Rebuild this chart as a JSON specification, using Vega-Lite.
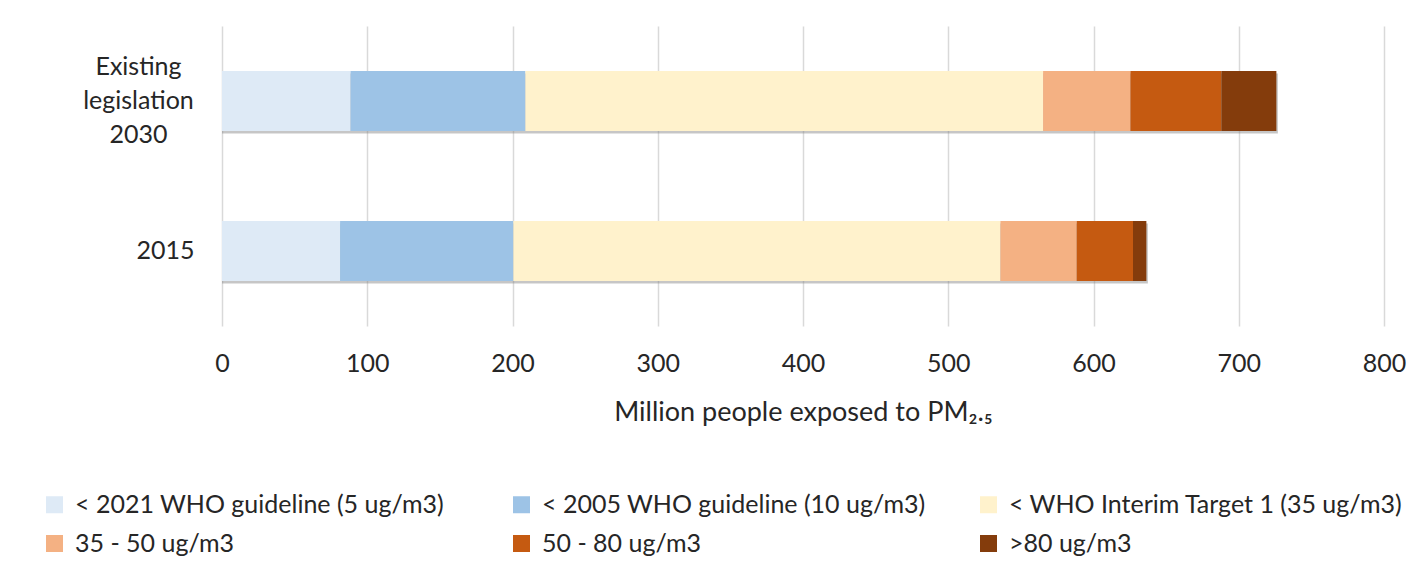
{
  "$schema": "https://vega.github.io/schema/vega-lite/v6.json",
  "width": 1162,
  "height": 300,
  "autosize": {"type": "none"},
  "padding": {"left": 222, "top": 26, "right": 42, "bottom": 247},
  "background": "white",
  "data": {
    "values": [
      {"scenario": "Existing legislation 2030", "band": "< 2021 WHO guideline (5 ug/m3)", "level": 1, "people": 88.5},
      {"scenario": "Existing legislation 2030", "band": "< 2005 WHO guideline (10 ug/m3)", "level": 2, "people": 120.4},
      {"scenario": "Existing legislation 2030", "band": "< WHO Interim Target 1 (35 ug/m3)", "level": 3, "people": 356.4},
      {"scenario": "Existing legislation 2030", "band": "35 - 50 ug/m3", "level": 4, "people": 60.1},
      {"scenario": "Existing legislation 2030", "band": "50 - 80 ug/m3", "level": 5, "people": 62.6},
      {"scenario": "Existing legislation 2030", "band": ">80 ug/m3", "level": 6, "people": 37.9},
      {"scenario": "2015", "band": "< 2021 WHO guideline (5 ug/m3)", "level": 1, "people": 81.3},
      {"scenario": "2015", "band": "< 2005 WHO guideline (10 ug/m3)", "level": 2, "people": 119.3},
      {"scenario": "2015", "band": "< WHO Interim Target 1 (35 ug/m3)", "level": 3, "people": 335.3},
      {"scenario": "2015", "band": "35 - 50 ug/m3", "level": 4, "people": 52.5},
      {"scenario": "2015", "band": "50 - 80 ug/m3", "level": 5, "people": 38.8},
      {"scenario": "2015", "band": ">80 ug/m3", "level": 6, "people": 9.2}
    ]
  },
  "encoding": {
    "y": {
      "field": "scenario",
      "type": "nominal",
      "sort": ["Existing legislation 2030", "2015"],
      "scale": {"paddingInner": 0.6, "paddingOuter": 0.3},
      "axis": {
        "title": null,
        "domain": false,
        "ticks": false,
        "tickSize": 0,
        "grid": false,
        "labelPadding": {"condition": {"test": "datum.value === '2015'", "value": 28}, "value": 84},
        "labelAlign": {"condition": {"test": "datum.value === '2015'", "value": "right"}, "value": "center"},
        "labelOffset": {"condition": {"test": "datum.value === '2015'", "value": 0}, "value": -34},
        "labelBaseline": "middle",
        "labelFont": "Lato",
        "labelFontSize": 25,
        "labelColor": "#262626",
        "labelLineHeight": 34,
        "labelExpr": "split(datum.value, ' ')"
      }
    }
  },
  "layer": [
    {
      "mark": {"type": "bar", "color": "#808080", "opacity": 0.45, "xOffset": 1.5, "yOffset": 2.5},
      "encoding": {
        "x": {"field": "people", "type": "quantitative", "aggregate": "sum", "scale": {"domain": [0, 800], "nice": false}}
      }
    },
    {
      "mark": {"type": "bar"},
      "encoding": {
        "x": {
          "field": "people",
          "type": "quantitative",
          "aggregate": "sum",
          "stack": "zero",
          "scale": {"domain": [0, 800], "nice": false},
          "axis": {
            "title": "Million people exposed to PM₂.₅",
            "values": [0, 100, 200, 300, 400, 500, 600, 700, 800],
            "domain": false,
            "ticks": false,
            "tickSize": 0,
            "grid": true,
            "gridColor": "#D9D9D9",
            "gridWidth": 1.5,
            "labelFlush": false,
            "labelPadding": 25,
            "labelFont": "Lato",
            "labelFontSize": 25,
            "labelColor": "#262626",
            "titleFont": "Lato",
            "titleFontSize": 27,
            "titleFontWeight": "normal",
            "titleColor": "#262626",
            "titlePadding": 23
          }
        },
        "order": {"field": "level", "type": "quantitative", "sort": "ascending"},
        "color": {
          "field": "band",
          "type": "nominal",
          "sort": ["< 2021 WHO guideline (5 ug/m3)", "< 2005 WHO guideline (10 ug/m3)", "< WHO Interim Target 1 (35 ug/m3)", "35 - 50 ug/m3", "50 - 80 ug/m3", ">80 ug/m3"],
          "scale": {
            "domain": ["< 2021 WHO guideline (5 ug/m3)", "< 2005 WHO guideline (10 ug/m3)", "< WHO Interim Target 1 (35 ug/m3)", "35 - 50 ug/m3", "50 - 80 ug/m3", ">80 ug/m3"],
            "range": ["#DEEAF6", "#9DC3E6", "#FFF2CC", "#F4B183", "#C55A11", "#843C0C"]
          },
          "legend": {
            "title": null,
            "orient": "none",
            "legendX": -180,
            "legendY": 466,
            "direction": "horizontal",
            "columns": 3,
            "gridAlign": "all",
            "columnPadding": 40,
            "rowPadding": 13,
            "symbolType": "square",
            "symbolSize": 289,
            "symbolStrokeWidth": 0,
            "labelOffset": 8,
            "labelFont": "Lato",
            "labelFontSize": 25,
            "labelColor": "#262626",
            "labelLimit": 600
          }
        }
      }
    }
  ],
  "config": {
    "view": {"stroke": null}
  }
}
